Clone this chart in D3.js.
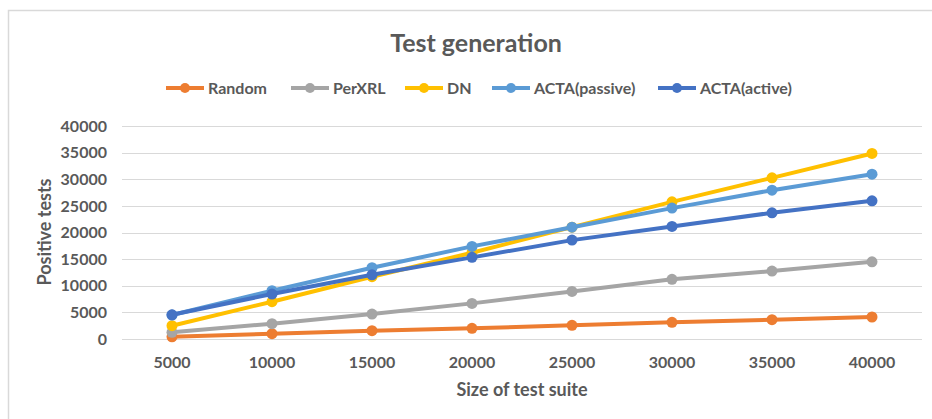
<!DOCTYPE html>
<html><head><meta charset="utf-8">
<script src="https://cdn.jsdelivr.net/npm/d3@7"></script>
<style>html,body{margin:0;padding:0;background:#fff;}svg{display:block;font-family:Lato,"Open Sans",sans-serif;}</style>
</head><body>
<svg id="chart" width="932" height="419"></svg>
<script>
const categories = [5000, 10000, 15000, 20000, 25000, 30000, 35000, 40000];
const seriesNames = ["Random", "PerXRL", "DN", "ACTA(passive)", "ACTA(active)"];
const colors = ["#ED7D31", "#A5A5A5", "#FFC000", "#5B9BD5", "#4472C4"];
const random = [400, 1000, 1560, 2000, 2570, 3130, 3620, 4130];
const perxrl = [1250, 2870, 4690, 6690, 8940, 11200, 12760, 14500];
const dn = [2500, 7000, 11700, 16200, 21000, 25760, 30260, 34840];
const actaPassive = [4500, 9060, 13380, 17390, 21000, 24580, 27950, 30950];
const actaActive = [4550, 8440, 12060, 15330, 18570, 21140, 23700, 25950];
const yTicks = [0, 5000, 10000, 15000, 20000, 25000, 30000, 35000, 40000];
const seriesValues = [random, perxrl, dn, actaPassive, actaActive];

const svg = d3.select("#chart");
const textColor = "#595959";

// chart border
svg.append("rect").attr("x", 8.5).attr("y", 10.5).attr("width", 1000).attr("height", 1000)
  .attr("fill", "none").attr("stroke", "#d9d9d9").attr("stroke-width", 1.5);

const x = d3.scaleBand().domain(categories).range([122, 922]);
const y = d3.scaleLinear().domain([0, 40000]).range([339, 126]);

// gridlines
svg.append("g").selectAll("line").data(yTicks).join("line")
  .attr("x1", 122).attr("x2", 922)
  .attr("y1", d => Math.round(y(d)) + 0.5).attr("y2", d => Math.round(y(d)) + 0.5)
  .attr("stroke", "#d9d9d9").attr("stroke-width", 1);

// y axis labels
const yAxis = d3.axisLeft(y).tickValues(yTicks).tickFormat(d3.format("d")).tickSize(0).tickPadding(0);
const gy = svg.append("g").attr("transform", "translate(107,0)").call(yAxis);
gy.select(".domain").remove();
gy.selectAll("text").attr("fill", textColor).attr("font-size", 16).attr("font-weight", "bold")
  .attr("font-family", "Lato, sans-serif");

// x axis labels
const xAxis = d3.axisBottom(x).tickFormat(d3.format("d")).tickSize(0).tickPadding(0);
const gx = svg.append("g").attr("transform", "translate(0,357)").call(xAxis);
gx.select(".domain").remove();
gx.selectAll("text").attr("fill", textColor).attr("font-size", 16).attr("font-weight", "bold")
  .attr("font-family", "Lato, sans-serif");

// lines
const line = d3.line().x((d, i) => x(categories[i]) + x.bandwidth() / 2).y(d => y(d));
seriesValues.forEach((vals, si) => {
  const g = svg.append("g");
  g.append("path").datum(vals).attr("d", line).attr("fill", "none")
    .attr("stroke", colors[si]).attr("stroke-width", 4).attr("stroke-linejoin", "round").attr("stroke-linecap", "round");
  g.selectAll("circle").data(vals).join("circle")
    .attr("cx", (d, i) => x(categories[i]) + x.bandwidth() / 2).attr("cy", d => y(d))
    .attr("r", 5.5).attr("fill", colors[si]);
});

// title
svg.append("text").attr("x", 476).attr("y", 52).attr("text-anchor", "middle")
  .attr("fill", textColor).attr("font-size", 25).attr("font-weight", "bold").text("Test generation");

// axis titles
svg.append("text").attr("x", 522).attr("y", 396).attr("text-anchor", "middle")
  .attr("fill", textColor).attr("font-size", 18).attr("font-weight", "bold").text("Size of test suite");
svg.append("text").attr("transform", "translate(51,232) rotate(-90)").attr("text-anchor", "middle")
  .attr("fill", textColor).attr("font-size", 18).attr("font-weight", "bold").text("Positive tests");

// legend
const legendX = [166, 291, 405, 492, 658];
const lg = svg.append("g");
seriesNames.forEach((name, i) => {
  const gx0 = legendX[i];
  lg.append("line").attr("x1", gx0).attr("x2", gx0 + 38).attr("y1", 88).attr("y2", 88)
    .attr("stroke", colors[i]).attr("stroke-width", 4);
  lg.append("circle").attr("cx", gx0 + 19).attr("cy", 88).attr("r", 5).attr("fill", colors[i]);
  lg.append("text").attr("x", gx0 + 42).attr("y", 93.5).attr("fill", textColor)
    .attr("font-size", 16).attr("font-weight", "bold").text(name);
});
</script>
</body></html>
